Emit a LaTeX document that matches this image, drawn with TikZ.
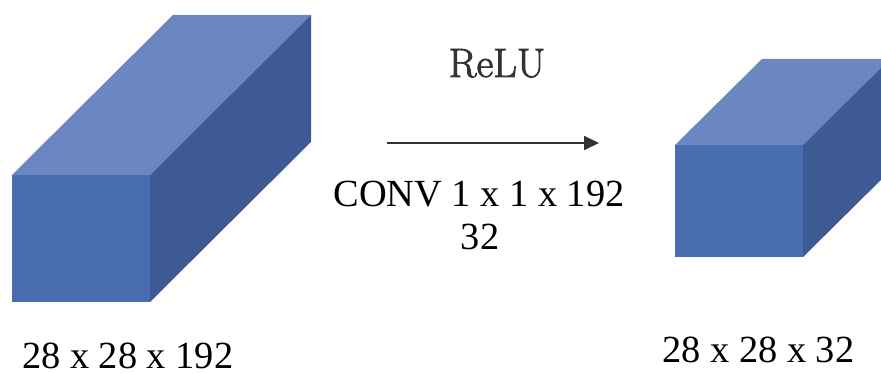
\documentclass[tikz,border=0pt]{standalone}
\usepackage{fontspec}
\setmainfont{Liberation Serif}
\newfontfamily\lmfont[FakeBold=2]{Latin Modern Roman}
\usetikzlibrary{arrows.meta}
\definecolor{fronttone}{HTML}{4A6CB0}
\definecolor{toptone}{HTML}{6A87C1}
\definecolor{sidetone}{HTML}{3D5A92}
\definecolor{inkgray}{HTML}{333333}
\tikzset{
  frontface/.style={fill=fronttone},
  topface/.style={fill=toptone},
  sideface/.style={fill=sidetone},
  dimlabel/.style={font=\fontsize{38.4}{42}\selectfont, inner sep=0pt, anchor=base},
  flow/.style={draw=inkgray, line width=2pt, -{Triangle[length=15pt,width=14pt]}}
}
\begin{document}
\begin{tikzpicture}[x=1pt,y=-1pt]
\useasboundingbox (0,0) rectangle (881,374);
% left cuboid: front (12,175)-(150,302), depth (161,-160)
\fill[topface] (12,175) -- (173,15) -- (311,15) -- (150,175) -- cycle;
\fill[sideface] (150,175) -- (311,15) -- (311,142) -- (150,302) -- cycle;
\fill[frontface] (12,175) rectangle (150,302);
% right cuboid: front (675,145)-(803,257), depth (87,-86)
\begin{scope}
\clip (0,0) rectangle (881,374);
\fill[topface] (675,145) -- (762,59) -- (890,59) -- (803,145) -- cycle;
\fill[sideface] (803,145) -- (890,59) -- (890,171) -- (803,257) -- cycle;
\fill[frontface] (675,145) rectangle (803,257);
\end{scope}
% labels
\node[dimlabel, anchor=base west] (inlab) at (22,368) {28 x 28 x 192};
\node[dimlabel, anchor=base west] (outlab) at (662,362) {28 x 28 x 32};
\node[inner sep=0pt, anchor=base, text=inkgray, font=\lmfont\fontsize{41}{44}\selectfont] (relu) at (497,77) {ReLU};
\coordinate (astart) at (387,143);
\coordinate (aend) at (599,143);
\draw[flow] (astart) -- (aend);
\node[dimlabel] (conv) at (479,207) {CONV 1 x 1 x 192};
\node[dimlabel] (filters) at (480,250) {32};
\end{tikzpicture}
\end{document}
